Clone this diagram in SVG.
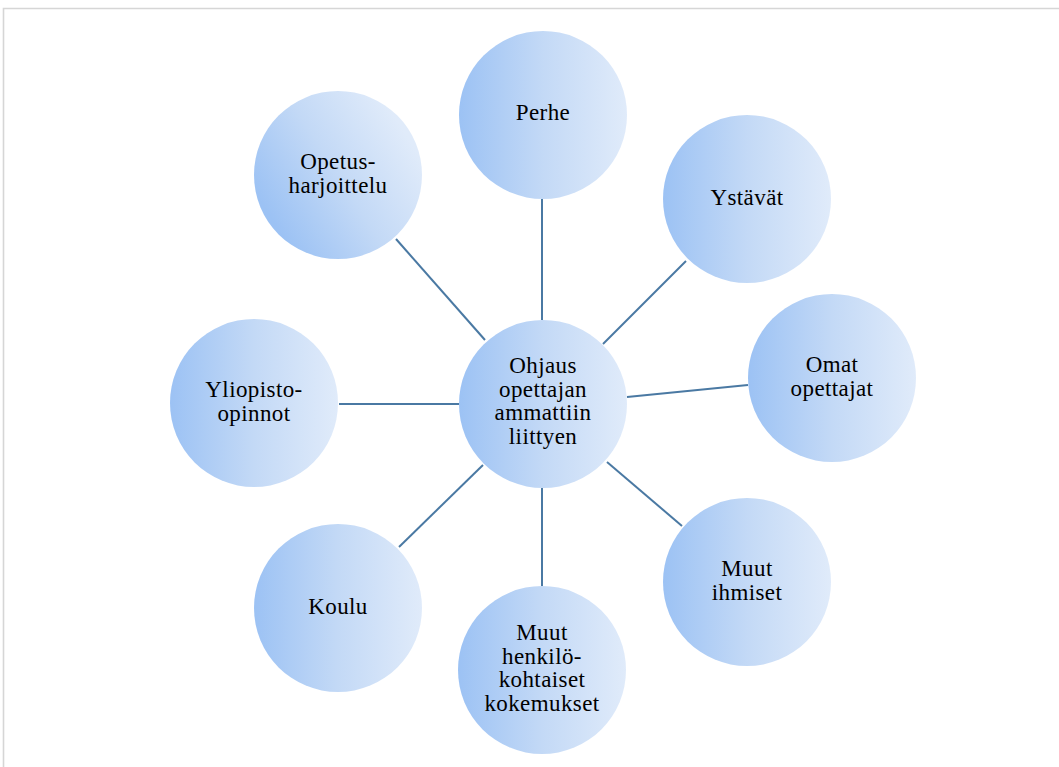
<svg xmlns="http://www.w3.org/2000/svg" width="1059" height="767" viewBox="0 0 1059 767">
<defs>
<linearGradient id="g" x1="0" y1="0" x2="1" y2="0">
<stop offset="0" stop-color="#9cc2f4"/>
<stop offset="0.5" stop-color="#c3d9f6"/>
<stop offset="1" stop-color="#e0ebfa"/>
</linearGradient>
<linearGradient id="gd" x1="0.1" y1="0.75" x2="0.9" y2="0.25">
<stop offset="0" stop-color="#9cc2f4"/>
<stop offset="0.5" stop-color="#c3d9f6"/>
<stop offset="1" stop-color="#e0ebfa"/>
</linearGradient>
</defs>
<style>
.n{fill:url(#g);}
.t{font-family:"Liberation Serif","Times New Roman",serif;font-size:23px;letter-spacing:0.4px;fill:#000;text-anchor:middle;}
.c line{stroke:#4a79a3;stroke-width:2;}
</style>
<rect x="0" y="0" width="1059" height="767" fill="#fff"/>
<path d="M3.5 767 V8.5 H1059" fill="none" stroke="#d6d6d6" stroke-width="1.6"/>
<g class="c" id="connectors">
<line x1="542" y1="199" x2="542" y2="320"/>
<line x1="686" y1="261" x2="603" y2="344"/>
<line x1="627" y1="397" x2="748" y2="385"/>
<line x1="607" y1="462" x2="682" y2="526"/>
<line x1="542" y1="488" x2="542" y2="586"/>
<line x1="399" y1="547" x2="483" y2="465"/>
<line x1="339" y1="404" x2="459" y2="404"/>
<line x1="396" y1="239" x2="485" y2="340"/>
</g>
<g id="center">
<circle class="n" cx="543" cy="404" r="84"/>
<text class="t" x="543" y="373">Ohjaus</text>
<text class="t" x="543" y="396.5">opettajan</text>
<text class="t" x="543" y="420">ammattiin</text>
<text class="t" x="543" y="443.5">liittyen</text>
</g>
<g id="perhe">
<circle class="n" cx="543" cy="115" r="84"/>
<text class="t" x="543" y="120">Perhe</text>
</g>
<g id="ystavat">
<circle class="n" cx="747" cy="199" r="84"/>
<text class="t" x="747" y="205">Ystävät</text>
</g>
<g id="omat">
<circle class="n" cx="832" cy="378" r="84"/>
<text class="t" x="832" y="372">Omat</text>
<text class="t" x="832" y="396">opettajat</text>
</g>
<g id="muutihmiset">
<circle class="n" cx="747" cy="582" r="84"/>
<text class="t" x="747" y="576">Muut</text>
<text class="t" x="747" y="600">ihmiset</text>
</g>
<g id="muuthenkilo">
<circle class="n" cx="542" cy="670" r="84"/>
<text class="t" x="542" y="640">Muut</text>
<text class="t" x="542" y="663.5">henkilö-</text>
<text class="t" x="542" y="687">kohtaiset</text>
<text class="t" x="542" y="710.5">kokemukset</text>
</g>
<g id="koulu">
<circle class="n" cx="338" cy="608" r="84"/>
<text class="t" x="338" y="614">Koulu</text>
</g>
<g id="yliopisto">
<circle class="n" cx="254" cy="403" r="84"/>
<text class="t" x="254" y="397">Yliopisto-</text>
<text class="t" x="254" y="421">opinnot</text>
</g>
<g id="opetus">
<circle cx="338" cy="175" r="84" fill="url(#gd)"/>
<text class="t" x="338" y="169">Opetus-</text>
<text class="t" x="338" y="193">harjoittelu</text>
</g>
</svg>
